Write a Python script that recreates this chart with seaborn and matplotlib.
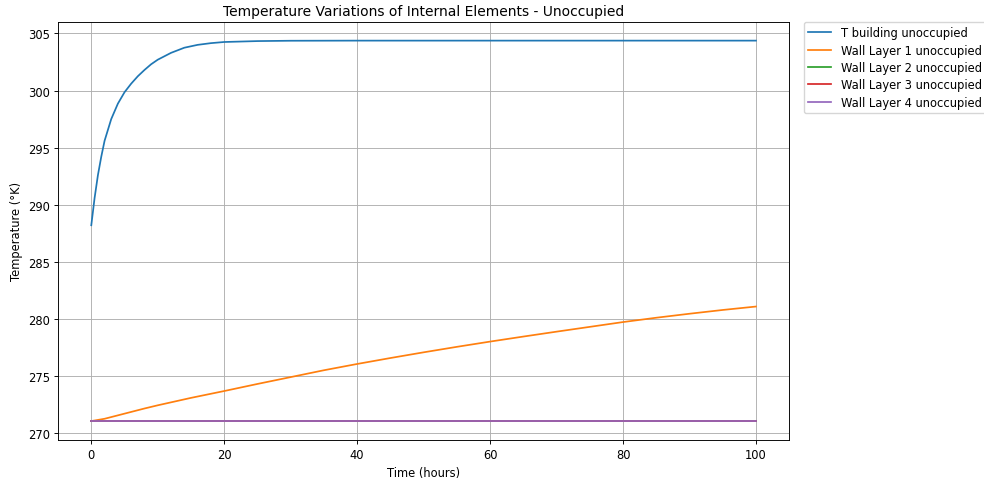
import matplotlib
matplotlib.use("Agg")
import matplotlib.pyplot as plt
import seaborn as sns

# Building air temperature (fast rise to steady state)
t_building = [0, 0.5, 1, 1.5, 2, 3, 4, 5, 6, 7, 8, 9, 10, 12, 14, 16, 18, 20, 25, 30,
              40, 50, 60, 70, 80, 90, 100]
T_building = [288.2, 290.6, 292.6, 294.2, 295.6, 297.5, 298.85, 299.85, 300.6, 301.25,
              301.8, 302.3, 302.7, 303.3, 303.75, 304.0, 304.15, 304.25, 304.33, 304.36,
              304.37, 304.37, 304.37, 304.37, 304.37, 304.37, 304.37]

# Wall layers
t_wall = [0, 2, 4, 6, 8, 10, 15, 20, 25, 30, 35, 40, 45, 50, 55, 60, 65, 70, 75, 80,
          85, 90, 95, 100]
wall_1 = [271.05, 271.25, 271.55, 271.85, 272.15, 272.43, 273.08, 273.68, 274.3, 274.9,
          275.5, 276.05, 276.57, 277.07, 277.55, 278.01, 278.45, 278.88, 279.3, 279.72,
          280.1, 280.45, 280.78, 281.08]
wall_2 = [271.05] * len(t_wall)
wall_3 = [271.05] * len(t_wall)
wall_4 = [271.05] * len(t_wall)

labels = ["T building unoccupied", "Wall Layer 1 unoccupied", "Wall Layer 2 unoccupied",
          "Wall Layer 3 unoccupied", "Wall Layer 4 unoccupied"]
colors = sns.color_palette("tab10", 5)

s = 0.83
plt.rcParams.update({
    "font.size": 10 * s,
    "axes.titlesize": 12 * s,
    "axes.linewidth": 0.8 * s,
    "grid.linewidth": 0.8 * s,
    "xtick.major.size": 3.5 * s,
    "ytick.major.size": 3.5 * s,
    "xtick.major.width": 0.8 * s,
    "ytick.major.width": 0.8 * s,
    "xtick.major.pad": 3.5 * s,
    "ytick.major.pad": 3.5 * s,
    "axes.titlepad": 6 * s,
    "axes.labelpad": 4 * s,
})

fig = plt.figure(figsize=(9.84, 4.81), dpi=100)
ax = fig.add_axes([0.059, 0.083, 0.743, 0.870])

series = [(t_building, T_building), (t_wall, wall_1), (t_wall, wall_2),
          (t_wall, wall_3), (t_wall, wall_4)]
for (x, y), lab, c in zip(series, labels, colors):
    sns.lineplot(x=x, y=y, ax=ax, label=lab, color=c, linewidth=1.5 * s)

ax.set_title("Temperature Variations of Internal Elements - Unoccupied")
ax.set_xlabel("Time (hours)")
ax.set_ylabel("Temperature (°K)")
ax.set_xticks([0, 20, 40, 60, 80, 100])
ax.set_yticks([270, 275, 280, 285, 290, 295, 300, 305])
ax.grid(True)
ax.legend(loc="upper left", bbox_to_anchor=(1.02, 1), borderaxespad=0,
          labelspacing=0.38)

fig.savefig("out.png", dpi=100)
